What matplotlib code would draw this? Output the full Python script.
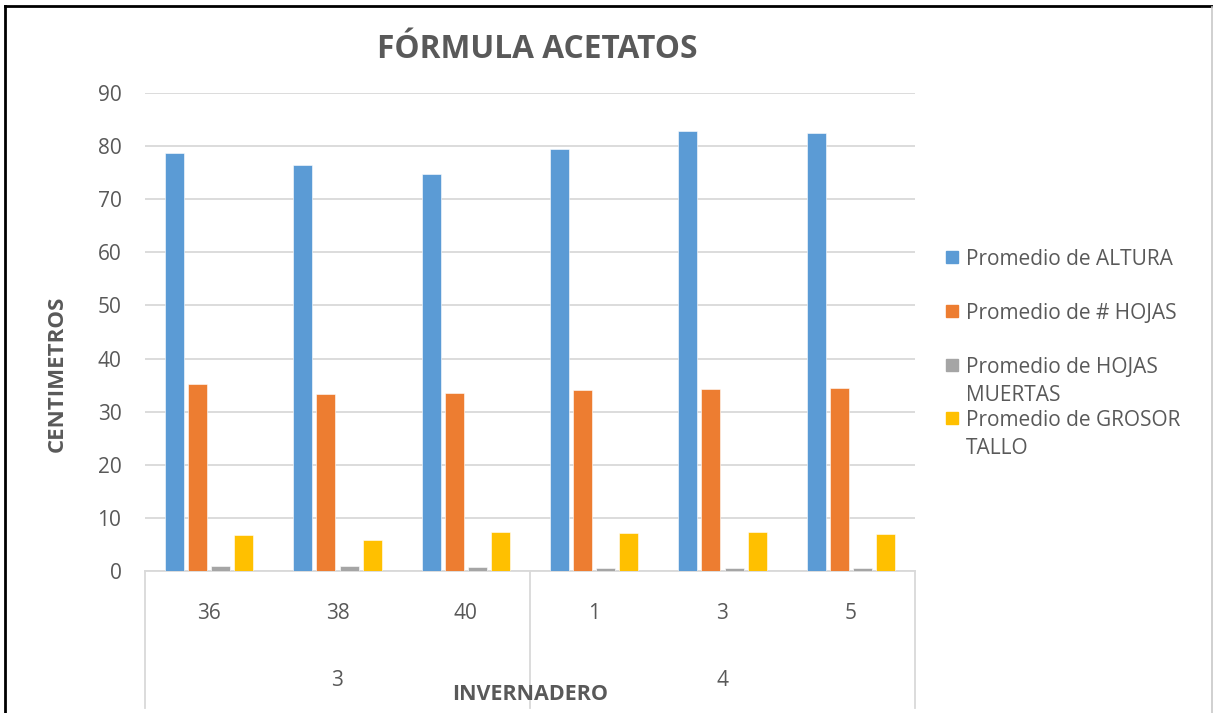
import matplotlib
matplotlib.use("Agg")
import matplotlib.pyplot as plt
from matplotlib.lines import Line2D
from matplotlib.patches import Rectangle
import numpy as np

plt.rcParams['font.family'] = ['Open Sans', 'DejaVu Sans']

# data
categories = ['36', '38', '40', '1', '3', '5']
groups = ['3', '4']
series = ['Promedio de ALTURA', 'Promedio de # HOJAS',
          'Promedio de HOJAS\nMUERTAS', 'Promedio de GROSOR\nTALLO']
altura = [78.7, 76.5, 74.8, 79.5, 82.8, 82.5]
hojas = [35.2, 33.3, 33.5, 34.1, 34.3, 34.5]
muertas = [1.0, 1.0, 0.8, 0.5, 0.5, 0.6]
grosor = [6.8, 5.8, 7.3, 7.15, 7.3, 7.0]
colors = ['#5B9BD5', '#ED7D31', '#A5A5A5', '#FFC000']

W, H = 1213, 713
txt = '#595959'
grid = '#D9D9D9'

fig = plt.figure(figsize=(W / 100, H / 100), dpi=100)
ax = fig.add_axes([145 / W, (H - 571) / H, 770 / W, 478 / H])

x = np.arange(len(categories))
step, bw = 0.18, 0.148
for i, vals in enumerate([altura, hojas, muertas, grosor]):
    ax.bar(x + (i - 1.5) * step, vals, bw, color=colors[i],
           edgecolor='white', linewidth=0.4, zorder=3)

ax.set_xlim(-0.5, 5.5)
ax.set_ylim(0, 90)
ax.set_yticks(range(0, 91, 10))
ax.yaxis.grid(True, color=grid, linewidth=1.3, zorder=0)
for s in ['top', 'right', 'left']:
    ax.spines[s].set_visible(False)
ax.spines['bottom'].set_color(grid)
ax.spines['bottom'].set_linewidth(1.3)
ax.tick_params(axis='y', length=0, pad=17, labelsize=15, labelcolor=txt)
ax.set_xticks(x, categories)
ax.tick_params(axis='x', length=0, pad=23, labelsize=15, labelcolor=txt)

# multi-level category axis
xt = ax.get_xaxis_transform()
low = -(708 - 571) / 478
for sx in [-0.5, 2.5, 5.5]:
    ax.plot([sx, sx], [0, low], transform=xt, color=grid, lw=1.3, clip_on=False)
for gi, g in enumerate(groups):
    ax.text(1 + 3 * gi, -(681 - 571) / 478, g, transform=xt, ha='center',
            va='center', fontsize=15, color=txt)
ax.text(2.5, -(695 - 571) / 478, 'INVERNADERO', transform=xt, ha='center',
        va='center', fontsize=15.5, fontweight='bold', color=txt)

fig.text(57 / W, 1 - 374 / H, 'CENTIMETROS', rotation=90, ha='center',
         va='center', fontsize=16, fontweight='bold', color=txt)
fig.text(537 / W, 1 - 49 / H, 'FÓRMULA ACETATOS', ha='center', va='center',
         fontsize=22.8, fontweight='bold', color=txt)

# legend
leg_y = [257, 311, 365, 418]
for c, lab, ly in zip(colors, series, leg_y):
    fig.add_artist(Rectangle((946 / W, 1 - (ly + 6) / H), 12 / W, 12 / H,
                             transform=fig.transFigure, color=c))
    fig.text(966 / W, 1 - (ly - 8) / H, lab, ha='left', va='top',
             fontsize=15, color=txt, linespacing=1.45)

# frame
fig.add_artist(Line2D([5 / W, 5 / W], [0, 1 - 6 / H], color='black', lw=2))
fig.add_artist(Line2D([5 / W, 1], [1 - 6 / H, 1 - 6 / H], color='black', lw=2))
fig.add_artist(Line2D([1212 / W, 1212 / W], [0, 1 - 7 / H], color='#C8C8C8', lw=1.2))

fig.savefig('out.png', dpi=100)
